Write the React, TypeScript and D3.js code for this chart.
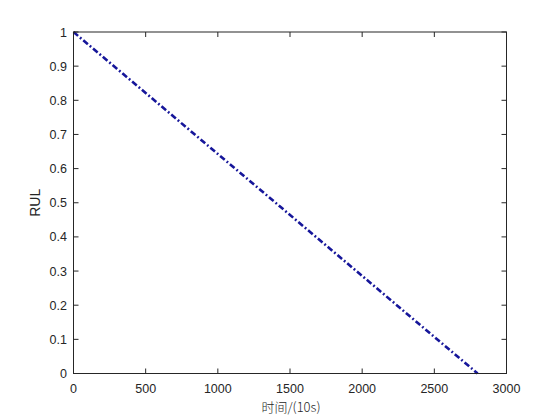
import React from "react";
import * as d3 from "d3";

const timeValues = [0, 2800];
const rulValues = [1, 0];
const xTicks = [0, 500, 1000, 1500, 2000, 2500, 3000];
const yTicks = [0, 0.1, 0.2, 0.3, 0.4, 0.5, 0.6, 0.7, 0.8, 0.9, 1];
const xLabel = "时间/(10s)";
const yLabel = "RUL";

export default function App() {
  const W = 560, H = 420;
  const L = 73.5, R = 506.5, T = 32, B = 373.5;
  const x = d3.scaleLinear().domain([0, 3000]).range([L, R]);
  const y = d3.scaleLinear().domain([0, 1]).range([B, T]);
  const pts = timeValues.map((t, i) => [t, rulValues[i]] as [number, number]);
  const line = d3.line<[number, number]>().x(d => x(d[0])).y(d => y(d[1]));
  const tickLen = 5;
  const font = "Liberation Sans, Arial, Helvetica, sans-serif";
  const col = "#262626";
  return (
    <svg width={W} height={H} style={{ position: "absolute", left: 0, top: 0, background: "#fff" }}>
      <rect x={0} y={0} width={W} height={H} fill="#fff" />
      <path d={line(pts) || ""} fill="none" stroke="#16169a" strokeWidth={2.6} strokeDasharray="6,2.5,1.8,2.5" />
      <rect x={L} y={T} width={R - L} height={B - T} fill="none" stroke={col} strokeWidth={1} />
      {xTicks.map(v => (
        <g key={"x" + v}>
          <line x1={x(v)} x2={x(v)} y1={B} y2={B - tickLen} stroke={col} />
          <line x1={x(v)} x2={x(v)} y1={T} y2={T + tickLen} stroke={col} />
          <text x={x(v)} y={392.5} textAnchor="middle" fontFamily={font} fontSize={12.5} fill={col}>{v}</text>
        </g>
      ))}
      {yTicks.map(v => (
        <g key={"y" + v}>
          <line x1={L} x2={L + tickLen} y1={y(v)} y2={y(v)} stroke={col} />
          <line x1={R} x2={R - tickLen} y1={y(v)} y2={y(v)} stroke={col} />
          <text x={67} y={y(v) + 4.5} textAnchor="end" fontFamily={font} fontSize={12.5} fill={col}>{v}</text>
        </g>
      ))}
      <text x={291} y={412} textAnchor="middle" fontFamily="Noto Sans CJK SC, sans-serif" fontWeight={300} fontSize={13} fill={col}>{xLabel}</text>
      <text transform={`translate(40,${(T + B) / 2}) rotate(-90)`} textAnchor="middle" fontFamily={font} fontSize={14} fill={col}>{yLabel}</text>
    </svg>
  );
}
